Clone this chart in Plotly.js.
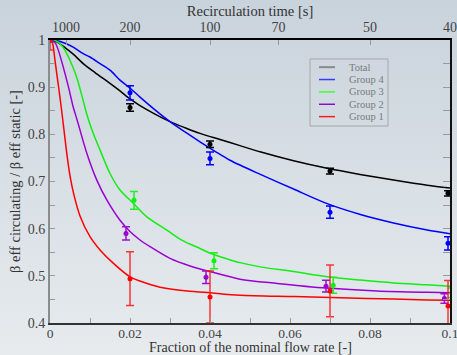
<!DOCTYPE html>
<html>
<head>
<meta charset="utf-8">
<script src="https://cdn.plot.ly/plotly-3.0.1.min.js"></script>
<style>
  html, body { margin: 0; padding: 0; }
  body { width: 457px; height: 355px; overflow: hidden;
         background: linear-gradient(#c9d3dc, #e7ebee); }
  #chart { width: 457px; height: 355px; }
</style>
</head>
<body>
<div id="chart"></div>
<script>
// Loop transit constant: recirculation time [s] = loopTime / flow fraction
const loopTime = 4;
const recircTimes = [1000, 200, 100, 70, 50, 40];

// bottom axis tick labels
const flowTicks = [0, 0.02, 0.04, 0.06, 0.08, 0.1];
const flowTickText = ['0', '0.02', '0.04', '0.06', '0.08', '0.1'];

// ---- computed curves (beta_eff ratio vs. flow fraction) ----
const totalCurveX = [0.0002, 0.0017, 0.00375, 0.0058, 0.0083, 0.01125, 0.015, 0.0175, 0.02, 0.0225, 0.02625, 0.03, 0.03375, 0.0375, 0.0425, 0.0475, 0.0525, 0.0609, 0.0693, 0.0775, 0.0859, 0.0943, 0.1];
const totalCurveY = [1.0, 0.996, 0.984, 0.970, 0.950, 0.931, 0.908, 0.892, 0.875, 0.861, 0.843, 0.827, 0.814, 0.802, 0.789, 0.776, 0.763, 0.744, 0.728, 0.715, 0.703, 0.692, 0.686];

const g4CurveX = [0.0002, 0.0017, 0.00375, 0.0058, 0.0083, 0.01, 0.0125, 0.015, 0.0175, 0.02, 0.0225, 0.02625, 0.03, 0.03375, 0.0375, 0.04125, 0.045, 0.0526, 0.0609, 0.0693, 0.0776, 0.0859, 0.0943, 0.1];
const g4CurveY = [1.0, 0.999, 0.993, 0.985, 0.971, 0.964, 0.950, 0.936, 0.915, 0.898, 0.879, 0.852, 0.827, 0.805, 0.784, 0.764, 0.745, 0.715, 0.684, 0.653, 0.630, 0.612, 0.597, 0.589];

const g3CurveX = [0.0002, 0.00075, 0.0015, 0.0025, 0.0033, 0.0042, 0.0055, 0.00675, 0.008, 0.0095, 0.011, 0.0125, 0.015, 0.0175, 0.0208, 0.0242, 0.0292, 0.0333, 0.0375, 0.04, 0.0443, 0.0475, 0.0526, 0.0609, 0.0693, 0.0776, 0.0859, 0.0943, 0.1];
const g3CurveY = [1.0, 1.0, 0.998, 0.992, 0.984, 0.971, 0.947, 0.919, 0.881, 0.834, 0.798, 0.767, 0.717, 0.682, 0.654, 0.625, 0.597, 0.574, 0.558, 0.548, 0.536, 0.528, 0.519, 0.509, 0.498, 0.491, 0.485, 0.481, 0.478];

const g2CurveX = [0.0002, 0.0008, 0.0015, 0.0021, 0.0033, 0.0046, 0.0058, 0.0068, 0.0092, 0.0117, 0.0142, 0.0175, 0.02, 0.0225, 0.025, 0.03, 0.035, 0.04, 0.0475, 0.0568, 0.0693, 0.0818, 0.0943, 0.1];
const g2CurveY = [1.0, 0.999, 0.991, 0.978, 0.943, 0.901, 0.858, 0.830, 0.760, 0.703, 0.661, 0.618, 0.594, 0.576, 0.562, 0.537, 0.521, 0.509, 0.493, 0.484, 0.474, 0.468, 0.465, 0.464];

const g1CurveX = [0.0002, 0.0005, 0.00075, 0.00125, 0.00175, 0.00225, 0.0029, 0.0035, 0.00425, 0.0051, 0.006, 0.0075, 0.01, 0.0125, 0.0158, 0.02, 0.0225, 0.0275, 0.0343, 0.04, 0.0475, 0.061, 0.0793, 0.0943, 0.1];
const g1CurveY = [1.0, 0.997, 0.989, 0.957, 0.925, 0.894, 0.851, 0.809, 0.756, 0.707, 0.671, 0.627, 0.583, 0.555, 0.527, 0.498, 0.489, 0.476, 0.468, 0.464, 0.459, 0.456, 0.452, 0.449, 0.448];

// ---- measured points with uncertainties ----
const totalPtsX = [0, 0.02, 0.04, 0.07, 0.0995];
const totalPtsY = [1.0, 0.857, 0.779, 0.722, 0.675];
const totalErr  = [0.003, 0.008, 0.007, 0.006, 0.0055];

const g4PtsX = [0, 0.02, 0.04, 0.07, 0.0995];
const g4PtsY = [1.0, 0.888, 0.749, 0.635, 0.569];
const g4Err  = [0.003, 0.015, 0.0135, 0.013, 0.014];

const g3PtsX = [0, 0.021, 0.041, 0.0708, 0.1005];
const g3PtsY = [1.0, 0.660, 0.532, 0.480, 0.464];
const g3Err  = [0.003, 0.019, 0.017, 0.017, 0.01];

const g2PtsX = [0, 0.019, 0.039, 0.069, 0.0986];
const g2PtsY = [1.0, 0.590, 0.497, 0.478, 0.452];
const g2Err  = [0.003, 0.014, 0.013, 0.0125, 0.01];

const g1PtsX = [0, 0.02, 0.04, 0.07, 0.0995];
const g1PtsY = [1.0, 0.494, 0.455, 0.468, 0.436];
const g1Err  = [0.021, 0.057, 0.055, 0.055, 0.054];

// legend entries
const legendNames  = ['Total', 'Group 4', 'Group 3', 'Group 2', 'Group 1'];
const legendColors = ['#8a8a8a', '#3a3aff', '#3cff3c', '#8a0ccc', '#ff1a1a'];

const series = [
  {cx: totalCurveX, cy: totalCurveY, px: totalPtsX, py: totalPtsY, e: totalErr, color: '#000000', ecolor: '#000000'},
  {cx: g4CurveX, cy: g4CurveY, px: g4PtsX, py: g4PtsY, e: g4Err, color: '#0000ff', ecolor: '#0000ff'},
  {cx: g3CurveX, cy: g3CurveY, px: g3PtsX, py: g3PtsY, e: g3Err, color: '#11ee11', ecolor: '#22ee22'},
  {cx: g2CurveX, cy: g2CurveY, px: g2PtsX, py: g2PtsY, e: g2Err, color: '#9a00d0', ecolor: '#9a10d0'},
  {cx: g1CurveX, cy: g1CurveY, px: g1PtsX, py: g1PtsY, e: g1Err, color: '#ff0000', ecolor: 'rgba(255,20,20,0.85)'}
];

const traces = [];
series.forEach(s => {
  traces.push({
    x: s.cx, y: s.cy, type: 'scatter', mode: 'lines',
    line: {color: s.color, width: 1.5, shape: 'spline', smoothing: 0.8},
    showlegend: false, hoverinfo: 'skip'
  });
});
series.forEach(s => {
  traces.push({
    x: s.px, y: s.py, type: 'scatter', mode: 'markers',
    marker: {color: s.color, size: 5},
    error_y: {type: 'data', array: s.e, visible: true, color: s.ecolor, thickness: 1.5, width: 4},
    showlegend: false, hoverinfo: 'skip'
  });
});
// hold the secondary axes
traces.push({x: [null], y: [null], xaxis: 'x2', yaxis: 'y2', type: 'scatter', mode: 'markers', showlegend: false, hoverinfo: 'skip'});

const serif = '"Liberation Serif", "DejaVu Serif", serif';

// hand-built legend box
const shapes = [{
  type: 'rect', xref: 'paper', yref: 'paper',
  x0: 0.65, x1: 0.845, y0: 0.696, y1: 0.933,
  line: {color: '#a8a8a8', width: 1}, fillcolor: 'rgba(0,0,0,0)'
}];
const annotations = [];
const rowTop = 0.904, rowStep = 0.0437;
legendNames.forEach((name, i) => {
  const yy = rowTop - i * rowStep;
  shapes.push({type: 'line', xref: 'paper', yref: 'paper', x0: 0.6725, x1: 0.7125, y0: yy, y1: yy,
               line: {color: legendColors[i], width: i === 0 ? 2 : 1.5}});
  annotations.push({xref: 'paper', yref: 'paper', x: 0.742, y: yy, xanchor: 'left', yanchor: 'middle',
                    text: name, showarrow: false, font: {family: serif, size: 10.5, color: '#7a7a7a'}});
});

// bottom axis title, set just under the tick labels
annotations.push({xref: 'paper', yref: 'paper', x: 0.5, y: 0, xanchor: 'center', yanchor: 'middle', yshift: -24,
                  text: 'Fraction of the nominal flow rate [-]', showarrow: false, borderpad: 0,
                  font: {family: serif, size: 14, color: '#333'}});

const layout = {
  width: 457, height: 355,
  margin: {l: 50, r: 7, t: 40, b: 32},
  paper_bgcolor: 'rgba(0,0,0,0)', plot_bgcolor: 'rgba(0,0,0,0)',
  font: {family: serif, size: 14, color: '#444'},
  showlegend: false,
  xaxis: {
    range: [0, 0.1], automargin: false,
    tickmode: 'array', tickvals: flowTicks, ticktext: flowTickText,
    ticklabeloverflow: 'allow',
    ticks: 'inside', ticklen: 5, tickcolor: '#999', tickwidth: 1,
    minor: {tick0: 0, dtick: 0.01, ticks: 'inside', ticklen: 5, tickcolor: '#999'},
    showline: true, linecolor: '#333', linewidth: 2, showgrid: false, zeroline: false,
    ticklabelstandoff: -3,
    tickfont: {family: serif, size: 13.5, color: '#444'}
  },
  xaxis2: {
    overlaying: 'x', side: 'top', range: [0, 0.1], automargin: false,
    tickvals: recircTimes.map(t => loopTime / t), ticktext: recircTimes.map(String),
    ticklabeloverflow: 'allow',
    ticks: 'inside', ticklen: 5, tickcolor: '#999',
    showline: true, linecolor: '#000', linewidth: 2, showgrid: false, zeroline: false,
    tickfont: {family: serif, size: 14, color: '#444'},
    title: {text: 'Recirculation time [s]', font: {family: serif, size: 14.5, color: '#333'}, standoff: 0}
  },
  yaxis: {
    range: [0.4, 1], dtick: 0.1, tick0: 0.4, automargin: false,
    ticks: 'inside', ticklen: 5, tickcolor: '#999',
    minor: {dtick: 0.05, ticks: 'inside', ticklen: 5, tickcolor: '#999'},
    showline: true, linecolor: '#8c8c8c', linewidth: 2, showgrid: false, zeroline: false,
    tickfont: {family: serif, size: 14, color: '#444'},
    title: {text: 'β eff circulating / β eff static [-]', font: {family: serif, size: 14.5, color: '#333'}, standoff: 4}
  },
  yaxis2: {
    overlaying: 'y', side: 'right', range: [0.4, 1], dtick: 0.05, tick0: 0.4, automargin: false,
    ticks: 'inside', ticklen: 7, tickcolor: '#999', showticklabels: false,
    showline: true, linecolor: '#111', linewidth: 1.5, showgrid: false, zeroline: false
  },
  shapes: shapes,
  annotations: annotations
};

Plotly.newPlot('chart', traces, layout, {staticPlot: true, displayModeBar: false});
</script>
</body>
</html>
